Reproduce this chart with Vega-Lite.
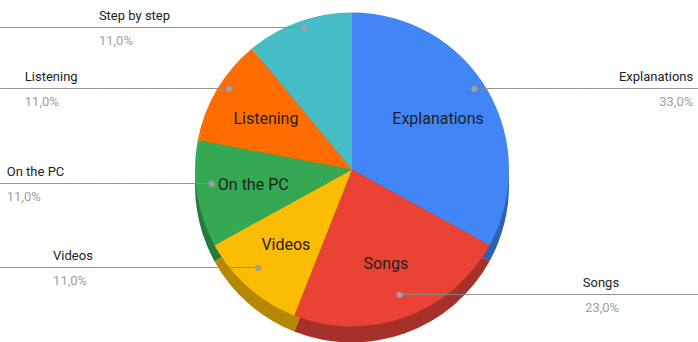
{
  "$schema": "https://vega.github.io/schema/vega-lite/v6.json",
  "width": 698,
  "height": 342,
  "autosize": {"type": "fit", "contains": "padding"},
  "padding": 0,
  "background": "white",
  "config": {
    "view": {"stroke": null},
    "font": "Roboto",
    "locale": {"number": {"decimal": ",", "thousands": ".", "grouping": [3], "currency": ["", " €"]}}
  },
  "data": {
    "values": [
      {"topic": "Explanations", "share": 0.33, "rank": 1},
      {"topic": "Songs", "share": 0.23, "rank": 2},
      {"topic": "Videos", "share": 0.11, "rank": 3},
      {"topic": "On the PC", "share": 0.11, "rank": 4},
      {"topic": "Listening", "share": 0.11, "rank": 5},
      {"topic": "Step by step", "share": 0.11, "rank": 6}
    ]
  },
  "encoding": {
    "theta": {"field": "share", "type": "quantitative", "stack": true, "scale": {"domain": [0, 1]}},
    "order": {"field": "rank", "type": "quantitative"}
  },
  "layer": [
    {
      "mark": {"type": "arc", "radius": 157, "xOffset": 3, "yOffset": 15},
      "encoding": {
        "color": {
          "field": "topic", "type": "nominal", "legend": null,
          "scale": {
            "domain": ["Explanations", "Songs", "Videos", "On the PC", "Listening", "Step by step"],
            "range": ["#2F60B0", "#A8302A", "#B58703", "#25793C", "#B84E01", "#32888E"]
          }
        }
      }
    },
    {
      "mark": {"type": "arc", "radius": 157, "xOffset": 3, "yOffset": -1},
      "encoding": {
        "color": {
          "field": "topic", "type": "nominal", "legend": null,
          "scale": {
            "domain": ["Explanations", "Songs", "Videos", "On the PC", "Listening", "Step by step"],
            "range": ["#4285F4", "#EA4335", "#FBBC04", "#34A853", "#FF6D01", "#46BDC6"]
          }
        }
      }
    },
    {
      "transform": [{"filter": "datum.topic !== 'Step by step'"}],
      "mark": {"type": "text", "radius": 100, "xOffset": 3, "yOffset": -1, "fontSize": 16, "color": "#1f1f1f"},
      "encoding": {"text": {"field": "topic"}}
    },
    {
      "mark": {
        "type": "text", "radius": 142, "xOffset": 3, "yOffset": -9, "clip": true,
        "align": {"expr": "datum.rank >= 3 ? 'right' : 'left'"},
        "font": "DejaVu Sans Mono", "fontSize": 10, "color": "#8a8a8a"
      },
      "encoding": {"text": {"value": "────────────────────────────────────────────────────"}}
    },
    {
      "mark": {"type": "text", "radius": 142, "xOffset": 3, "yOffset": -9, "font": "DejaVu Sans", "fontSize": 8, "color": "#a0a0a0"},
      "encoding": {"text": {"value": "●"}}
    },
    {
      "mark": {
        "type": "text", "radius": 142, "xOffset": 3, "yOffset": -9,
        "align": {"expr": "datum.rank >= 3 ? 'left' : 'right'"},
        "dx": {"expr": "datum.rank >= 3 ? -205 : 219"},
        "dy": -12, "fontSize": 13, "color": "#222222"
      },
      "encoding": {"text": {"field": "topic"}}
    },
    {
      "mark": {
        "type": "text", "radius": 142, "xOffset": 3, "yOffset": -9,
        "align": {"expr": "datum.rank >= 3 ? 'left' : 'right'"},
        "dx": {"expr": "datum.rank >= 3 ? -205 : 219"},
        "dy": 13, "fontSize": 13, "color": "#a0a0a0"
      },
      "encoding": {"text": {"field": "share", "type": "quantitative", "format": ".1%"}}
    }
  ],
  "resolve": {"scale": {"color": "independent"}}
}
